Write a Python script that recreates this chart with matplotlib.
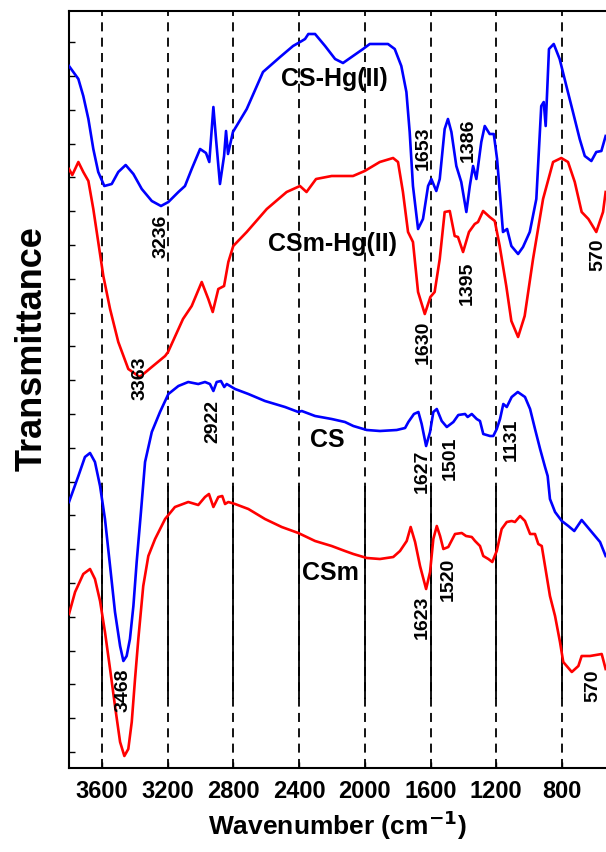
import matplotlib
matplotlib.use("Agg")
import matplotlib.pyplot as plt
import numpy as np

plt.rcParams["font.family"] = ["Liberation Sans", "DejaVu Sans"]
plt.rcParams["font.weight"] = "bold"

# wavenumber (cm-1) and transmittance (a.u., curves offset as in the figure)
cshg_wn = [3801, 3744, 3714, 3683, 3653, 3623, 3586, 3541, 3501, 3456, 3409, 3358, 3297, 3241,
           3196, 3135, 3095, 3054, 3003, 2967, 2947, 2922, 2906, 2882, 2857, 2845, 2833, 2803,
           2719, 2620, 2516, 2437, 2384, 2364, 2344, 2303, 2242, 2181, 2133, 2011, 1970, 1859,
           1818, 1778, 1747, 1727, 1707, 1676, 1646, 1615, 1595, 1565, 1544, 1514, 1494, 1473,
           1443, 1413, 1382, 1361, 1341, 1321, 1291, 1270, 1240, 1215, 1195, 1175, 1159, 1134,
           1108, 1067, 1037, 996, 956, 926, 911, 899, 879, 850, 814, 773, 733, 692, 661, 621,
           591, 560, 534]
cshg_t = [702, 689, 672, 649, 619, 596, 582, 584, 596, 603, 594, 579, 567, 562,
          566, 576, 582, 599, 619, 615, 606, 661, 629, 584, 612, 637, 614, 636,
          659, 696, 711, 722, 727, 729, 734, 734, 722, 709, 705, 719, 724, 724,
          719, 702, 676, 636, 582, 539, 549, 582, 589, 577, 589, 639, 649, 636,
          602, 586, 556, 582, 602, 589, 626, 642, 634, 634, 609, 569, 536, 539,
          522, 514, 521, 536, 569, 662, 666, 642, 719, 724, 709, 682, 656, 629, 612, 607,
          616, 617, 632]

csmhg_wn = [3801, 3781, 3744, 3714, 3683, 3653, 3623, 3592, 3551, 3501, 3440, 3370, 3297, 3216,
            3198, 3107, 3054, 2993, 2953, 2926, 2892, 2857, 2831, 2801, 2719, 2597, 2476, 2395,
            2355, 2297, 2202, 2072, 2001, 1909, 1828, 1798, 1768, 1737, 1707, 1676, 1635, 1601,
            1575, 1544, 1514, 1483, 1453, 1433, 1402, 1366, 1331, 1311, 1280, 1240, 1209, 1179,
            1139, 1108, 1067, 1027, 976, 915, 854, 804, 763, 722, 680, 639, 591, 550, 534]
csmhg_t = [599, 593, 606, 596, 587, 559, 526, 492, 459, 426, 399, 391, 401, 412,
           416, 449, 462, 486, 469, 456, 479, 482, 506, 522, 536, 559, 576, 582,
           576, 589, 592, 592, 597, 606, 610, 606, 576, 536, 526, 476, 454, 471,
           476, 509, 556, 557, 532, 531, 516, 536, 544, 546, 557, 551, 547, 522,
           482, 447, 431, 452, 509, 569, 606, 610, 606, 586, 556, 549, 536, 556, 576]

cs_wn = [3801, 3744, 3704, 3673, 3643, 3612, 3582, 3551, 3521, 3490, 3470, 3450, 3430, 3409,
         3389, 3363, 3338, 3297, 3247, 3196, 3135, 3075, 3014, 2973, 2943, 2922, 2902, 2876,
         2856, 2841, 2790, 2709, 2608, 2486, 2405, 2384, 2303, 2202, 2121, 2070, 1988, 1908,
         1806, 1755, 1735, 1701, 1674, 1654, 1627, 1603, 1583, 1562, 1532, 1501, 1461, 1431,
         1390, 1374, 1349, 1319, 1299, 1279, 1238, 1218, 1197, 1177, 1157, 1136, 1106, 1069,
         1025, 994, 964, 933, 903, 887, 873, 842, 801, 761, 725, 680, 619, 568, 534]
cs_t = [266, 292, 311, 315, 306, 282, 249, 202, 156, 122, 107, 112, 129, 162,
        206, 256, 306, 336, 356, 374, 382, 386, 384, 386, 384, 377, 386, 387,
        381, 384, 379, 374, 367, 361, 356, 357, 352, 349, 346, 342, 338, 337,
        338, 340, 346, 354, 356, 344, 322, 336, 356, 359, 347, 341, 346, 353,
        354, 351, 354, 349, 347, 334, 332, 332, 339, 349, 364, 361, 371, 376,
        371, 359, 339, 319, 301, 292, 269, 256, 247, 242, 237, 248, 236, 226, 212]

csm_wn = [3801, 3764, 3714, 3673, 3643, 3612, 3582, 3551, 3521, 3490, 3464, 3440, 3419, 3399,
          3379, 3349, 3318, 3277, 3216, 3156, 3075, 3014, 2973, 2949, 2922, 2892, 2868, 2851,
          2831, 2790, 2709, 2608, 2506, 2405, 2303, 2202, 2121, 2070, 1988, 1908, 1827, 1786,
          1745, 1721, 1694, 1664, 1627, 1603, 1583, 1562, 1542, 1522, 1492, 1451, 1410, 1384,
          1349, 1329, 1299, 1279, 1248, 1224, 1197, 1167, 1136, 1106, 1086, 1055, 1025, 994,
          964, 944, 923, 903, 873, 842, 812, 792, 740, 700, 680, 629, 558, 534]
csm_t = [154, 176, 194, 199, 189, 167, 136, 99, 62, 26, 12, 19, 46, 89,
         129, 182, 212, 229, 249, 261, 266, 263, 271, 274, 261, 271, 272, 264,
         266, 264, 259, 249, 241, 235, 227, 222, 217, 214, 210, 209, 211, 217,
         227, 241, 226, 202, 179, 196, 229, 242, 232, 219, 221, 234, 235, 232,
         231, 227, 222, 212, 209, 206, 217, 239, 246, 247, 246, 252, 247, 234,
         234, 224, 222, 202, 172, 152, 126, 106, 96, 102, 112, 112, 114, 99]

names = ["CS-Hg(II)", "CSm-Hg(II)", "CS", "CSm"]
name_pos = [(2188, 690), (2194, 525), (2230, 329), (2212, 196)]

peak_labels = ["3236", "3363", "2922", "3468", "1653", "1386", "1630", "1395", "570",
               "1627", "1501", "1131", "1623", "1520", "570"]
peak_pos = [(3241, 533), (3368, 391), (2926, 347), (3473, 79), (1646, 621), (1370, 629),
            (1646, 427), (1378, 486), (580, 514), (1652, 298), (1481, 311), (1110, 329),
            (1652, 152), (1493, 190), (610, 83)]

grid_wn = [3600, 3200, 2800, 2400, 2000, 1600, 1200, 800]

fig = plt.figure(figsize=(6.06, 8.53), dpi=100)
ax = fig.add_axes([69 / 606, 84 / 853, 537.3 / 606, 757 / 853])

for g in grid_wn:
    ax.axvline(g, color="black", lw=1.3, ls=(0, (5, 3.5)), zorder=1)
ax.vlines(grid_wn, 69, 282, color="black", lw=1.3, zorder=1)

ax.plot(cshg_wn, cshg_t, color="#0000ff", lw=1.9, zorder=3, solid_joinstyle="round")
ax.plot(csmhg_wn, csmhg_t, color="#ff0000", lw=1.9, zorder=3, solid_joinstyle="round")
ax.plot(cs_wn, cs_t, color="#0000ff", lw=1.9, zorder=3, solid_joinstyle="round")
ax.plot(csm_wn, csm_t, color="#ff0000", lw=1.9, zorder=3, solid_joinstyle="round")

for n, (x, y) in zip(names, name_pos):
    ax.text(x, y, n, fontsize=18, fontweight="bold", ha="center", va="center", zorder=4)
for s, (x, y) in zip(peak_labels, peak_pos):
    ax.text(x, y, s, fontsize=14, fontweight="bold", rotation=90,
            ha="center", va="center", zorder=4)

ax.set_xlim(3801, 530)
ax.set_ylim(0, 757)
ax.set_xticks(grid_wn)
ax.set_xticklabels([str(g) for g in grid_wn], fontsize=17, fontweight="bold")
ax.set_yticks(np.arange(16, 757, 33.8))
ax.set_yticklabels([])
ax.tick_params(axis="y", direction="in", length=4, width=1)
ax.tick_params(axis="x", direction="in", length=4, width=1, pad=8)
ax.spines["right"].set_visible(False)
for sp in ["left", "top", "bottom"]:
    ax.spines[sp].set_linewidth(1.5)

ax.set_xlabel("Wavenumber (cm$^{\\mathbf{-1}}$)", fontsize=19, fontweight="bold", labelpad=4)
ax.set_ylabel("Transmittance", fontsize=26, fontweight="bold", va="center")
ax.yaxis.set_label_coords(-0.069, 0.556)

fig.savefig("out.png", dpi=100)
